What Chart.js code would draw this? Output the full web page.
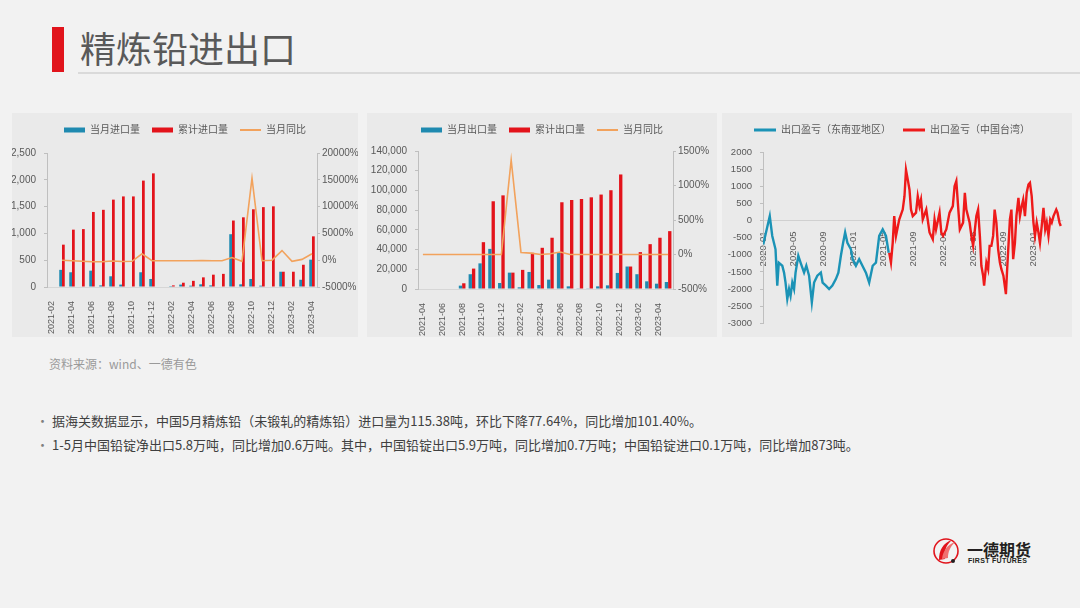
<!DOCTYPE html>
<html>
<head>
<meta charset="utf-8">
<script src="https://cdn.jsdelivr.net/npm/chart.js@4.4.0/dist/chart.umd.min.js"></script>
<style>
  html, body { margin:0; padding:0; }
  body { width:1080px; height:608px; background:#f2f2f2; position:relative; overflow:hidden;
         font-family:'Liberation Sans','Noto Sans CJK SC',sans-serif; }
  .bar { position:absolute; left:52px; top:27px; width:12px; height:45px; background:#e1141c; }
  .title { position:absolute; left:80px; top:29px; font-family:'Noto Sans CJK SC',sans-serif; font-size:36px; line-height:36px; color:#595959; }
  .rule { position:absolute; left:78px; top:72px; width:1002px; height:2px; background:#dadada; }
  .panel { position:absolute; top:113px; height:224px; background:#eaeaea; }
  .panel canvas { position:absolute; left:0; top:0; }
  .src { position:absolute; left:49px; top:355px; font-family:'Noto Sans CJK SC',sans-serif; font-size:12px; color:#9a9a9a; }
  .bl { position:absolute; left:36px; font-family:'Noto Sans CJK SC',sans-serif; font-size:13px; color:#404040; white-space:nowrap; }
  .bl span.dot { display:inline-block; width:16px; color:#7f7f7f; }
  .logo { position:absolute; left:933px; top:536px; }
  .lt1 { position:absolute; left:967px; top:540px; font-family:'Noto Sans CJK SC',sans-serif; font-weight:bold; font-size:16px; line-height:18px; color:#231f20; letter-spacing:0px; }
  .lt2 { position:absolute; left:968px; top:557px; font-family:'Liberation Sans',sans-serif; font-weight:bold; font-size:7px; line-height:8px; color:#231f20; letter-spacing:0.3px; }
</style>
</head>
<body>
<div class="bar"></div>
<div class="title">精炼铅进出口</div>
<div class="rule"></div>

<div class="panel" style="left:12px;width:346px;"><canvas id="c1" width="346" height="224"></canvas></div>
<div class="panel" style="left:367px;width:350px;"><canvas id="c2" width="350" height="224"></canvas></div>
<div class="panel" style="left:722px;width:350px;"><canvas id="c3" width="350" height="224"></canvas></div>

<div class="src">资料来源：wind、一德有色</div>
<div class="bl" style="top:411px;"><span class="dot">•</span>据海关数据显示，中国5月精炼铅（未锻轧的精炼铅）进口量为115.38吨，环比下降77.64%，同比增加101.40%。</div>
<div class="bl" style="top:435px;"><span class="dot">•</span>1-5月中国铅锭净出口5.8万吨，同比增加0.6万吨。其中，中国铅锭出口5.9万吨，同比增加0.7万吨；中国铅锭进口0.1万吨，同比增加873吨。</div>

<svg class="logo" width="30" height="30" viewBox="0 0 30 30">
  <circle cx="13" cy="15" r="12" fill="none" stroke="#e1141c" stroke-width="1.6"/>
  <path d="M6 24 C 6 14, 10 7, 19 4 C 13 9, 11 15, 12 23 Z" fill="#e1141c"/>
  <path d="M9 23 C 10 15, 14 9, 22 6 C 17 11, 15 16, 15 22 Z" fill="#f07070"/>
  <circle cx="20" cy="25" r="2" fill="#231f20"/>
</svg>
<div class="lt1">一德期货</div>
<div class="lt2">FIRST FUTURES</div>

<script>
// ---------------- data ----------------
const importMonths = ['2021-02','2021-03','2021-04','2021-05','2021-06','2021-07','2021-08','2021-09','2021-10','2021-11','2021-12','2022-01','2022-02','2022-03','2022-04','2022-05','2022-06','2022-07','2022-08','2022-09','2022-10','2022-11','2022-12','2023-01','2023-02','2023-03','2023-04'];
const importMonthly    = [0, 320, 275, 10, 305, 30, 200, 45, 10, 275, 150, 0, 2, 45, 25, 50, 30, 10, 985, 50, 150, 25, 10, 285, 0, 135, 510];
const importCumulative = [0, 790, 1070, 1080, 1400, 1440, 1630, 1690, 1690, 1985, 2120, 0, 30, 80, 115, 180, 230, 245, 1240, 1300, 1450, 1490, 1505, 285, 285, 415, 945];
const importYoY        = [null, 0, -100, -200, -300, -300, -150, -250, -200, 1200, -100, -100, -100, -100, -100, -50, -100, -100, 500, -200, 15300, -100, 0, 1800, -200, 150, 1200];

const exportMonths = ['2021-04','2021-05','2021-06','2021-07','2021-08','2021-09','2021-10','2021-11','2021-12','2022-01','2022-02','2022-03','2022-04','2022-05','2022-06','2022-07','2022-08','2022-09','2022-10','2022-11','2022-12','2023-01','2023-02','2023-03','2023-04','2023-05'];
const exportMonthly    = [0, 0, 0, 500, 3400, 15000, 26000, 40700, 6100, 16600, 1700, 17300, 4000, 9500, 37000, 2700, 300, 700, 2700, 3700, 16300, 22800, 15000, 7800, 5400, 7100];
const exportCumulative = [0, 0, 0, 500, 5800, 20700, 47500, 89000, 95000, 16600, 19400, 36700, 41800, 52000, 88000, 90300, 91300, 93000, 95800, 100200, 116200, 22800, 37400, 45500, 52000, 58700];
const exportYoY        = [0, 0, 0, 0, 0, 0, 0, 0, 0, 1370, 30, 20, 0, 10, 35, 0, 0, 0, 0, 0, 0, 0, 0, 0, 0, 0];

const seaDates = ['2020-01-02','2020-01-28','2020-02-08','2020-02-21','2020-02-28','2020-03-04','2020-03-18','2020-03-25','2020-04-01','2020-04-08','2020-04-15','2020-04-21','2020-04-28','2020-05-05','2020-05-11','2020-05-22','2020-06-01','2020-06-15','2020-06-24','2020-07-05','2020-07-16','2020-07-25','2020-08-08','2020-08-22','2020-08-29','2020-09-12','2020-09-25','2020-10-08','2020-10-22','2020-11-02','2020-11-12','2020-11-21','2020-11-29','2020-12-08','2020-12-22','2020-12-29','2021-01-12','2021-01-25','2021-02-08','2021-02-22','2021-03-05','2021-03-19','2021-04-02','2021-04-15','2021-04-29','2021-05-12','2021-05-23'];
const seaProfit = [-700, 130, -450, -840, -1900, -1230, -1320, -1520, -1810, -2290, -2000, -2200, -1810, -2000, -1520, -1030, -1230, -1520, -1320, -1610, -2390, -1810, -1610, -1520, -1810, -1900, -2000, -1900, -1710, -1520, -1030, -650, -350, -650, -840, -1130, -1320, -1130, -1320, -1520, -1810, -1320, -1230, -450, -260, -450, -940];

const twDates = ['2021-05-25','2021-06-02','2021-06-09','2021-06-15','2021-06-22','2021-07-05','2021-07-19','2021-07-26','2021-08-02','2021-08-09','2021-08-16','2021-08-22','2021-08-29','2021-09-12','2021-09-19','2021-09-26','2021-10-02','2021-10-09','2021-10-23','2021-11-06','2021-11-19','2021-11-26','2021-12-02','2021-12-16','2021-12-23','2021-12-30','2022-01-13','2022-01-26','2022-02-09','2022-02-16','2022-02-23','2022-03-01','2022-03-07','2022-03-20','2022-03-27','2022-04-03','2022-04-16','2022-04-23','2022-04-30','2022-05-13','2022-05-20','2022-05-27','2022-06-03','2022-06-10','2022-06-14','2022-06-23','2022-06-30','2022-07-06','2022-07-13','2022-07-20','2022-07-26','2022-08-03','2022-08-10','2022-08-17','2022-08-23','2022-09-01','2022-09-11','2022-09-16','2022-09-27','2022-10-03','2022-10-10','2022-10-17','2022-10-23','2022-11-01','2022-11-07','2022-11-14','2022-11-20','2022-11-27','2022-12-04','2022-12-11','2022-12-17','2022-12-24','2023-01-01','2023-01-07','2023-01-14','2023-01-21','2023-01-27','2023-02-04','2023-02-11','2023-02-18','2023-02-24','2023-03-01','2023-03-08','2023-03-14','2023-03-21','2023-04-02','2023-04-07','2023-04-15','2023-04-20'];
const twProfit = [-940, -1230, -650, 130, -450, 30, 320, 710, 1480, 1200, 900, 320, 130, 230, 710, 420, 610, 30, 320, -350, -550, 30, -260, 230, -350, -450, -260, 230, 420, 1000, 1150, 320, -260, -60, 810, 320, -60, -450, -740, 130, 320, -450, -1320, -1610, -1900, -1230, -1420, -740, -740, -450, 320, -60, -840, -1230, -1420, -1610, -2150, -1420, 30, 320, -1130, -650, 130, 660, 130, 420, 610, 130, 810, 1050, 1100, 710, -60, -450, -60, -350, -650, -160, 370, -260, -60, -450, 30, -60, 130, 320, 230, -60, -160];

// axis ranges
const importAxis = { min: 0, max: 2500, step: 500 };
const importPctAxis = { min: -5000, max: 20000, step: 5000 };
const exportAxis = { min: 0, max: 140000, step: 20000 };
const exportPctAxis = { min: -500, max: 1500, step: 500 };
const profitAxis = { min: -3000, max: 2000, step: 500 };

// ---------------- styling ----------------
const TEAL = '#1f8ab0';
const RED = '#e3131b';
const ORANGE = '#f2a25c';
const LINE_BLUE = '#1b93b6';
const LINE_RED = '#ee1a1a';
const TXT = '#595959';
const AXIS = '#bfbfbf';

Chart.defaults.font.family = "'Liberation Sans','Noto Sans CJK SC',sans-serif";
Chart.defaults.color = TXT;

const legendGap = {
  id: 'legendGap',
  beforeLayout(chart, args, opts) {
    const lg = chart.legend;
    if (lg && !lg._gapWrapped) {
      const f = lg.fit;
      lg.fit = function () { f.call(this); this.height += (opts.extra || 0); };
      lg._gapWrapped = true;
    }
  }
};

function legendLabels(chart) {
  const items = Chart.defaults.plugins.legend.labels.generateLabels(chart);
  items.forEach(it => {
    const ds = chart.data.datasets[it.datasetIndex];
    if (ds.type === 'line' || chart.config.type === 'line') {
      it.pointStyle = 'line';
      it.strokeStyle = ds.borderColor;
      it.lineWidth = ds.legendLineWidth || 2;
    } else {
      it.pointStyle = 'rect';
      it.lineWidth = 0;
    }
  });
  return items;
}

function legendOpts() {
  return {
    display: true,
    position: 'top',
    labels: {
      usePointStyle: true, pointStyleWidth: 21, boxHeight: 5, padding: 12,
      font: { size: 10 }, color: TXT,
      sort: (a, b) => a.datasetIndex - b.datasetIndex,
      generateLabels: legendLabels
    }
  };
}

function comboChart(id, labels, monthly, cumulative, yoy, names, axisL, axisR, geo) {
  return new Chart(document.getElementById(id), {
    type: 'bar',
    data: {
      labels: labels,
      datasets: [
        { type: 'bar', label: names[0], data: monthly, backgroundColor: TEAL, yAxisID: 'y', order: 1,
          categoryPercentage: geo.cat, barPercentage: 1 },
        { type: 'bar', label: names[1], data: cumulative, backgroundColor: RED, yAxisID: 'y', order: 1,
          categoryPercentage: geo.cat, barPercentage: 1 },
        { type: 'line', label: names[2], data: yoy, borderColor: ORANGE, backgroundColor: ORANGE, borderWidth: 1.6,
          pointRadius: 0, tension: 0, yAxisID: 'y1', order: 0, legendLineWidth: 2 }
      ]
    },
    options: {
      responsive: false, animation: false,
      layout: { padding: { top: 0, left: 0, right: 0, bottom: 0 } },
      plugins: { legend: legendOpts(), tooltip: { enabled: false }, legendGap: { extra: geo.gap } },
      scales: {
        x: {
          grid: { display: false },
          border: { display: true, color: '#d6d6d6' },
          ticks: {
            autoSkip: false, minRotation: 90, maxRotation: 90, padding: 6,
            font: { size: 9 }, color: TXT,
            callback: function (v, i) { return i % 2 === 0 ? this.getLabelForValue(v) : ''; }
          },
          afterFit(s) { s.height = geo.bottom; }
        },
        y: {
          position: 'left', min: axisL.min, max: axisL.max,
          ticks: { stepSize: axisL.step, padding: 8, font: { size: 10 }, color: TXT,
                   callback: v => v.toLocaleString('en-US') },
          grid: { drawOnChartArea: false, drawTicks: true, tickLength: 3, color: AXIS },
          border: { display: true, color: AXIS },
          afterFit(s) { s.width = geo.left; }
        },
        y1: {
          position: 'right', min: axisR.min, max: axisR.max,
          ticks: { stepSize: axisR.step, padding: 2, font: { size: 10 }, color: TXT,
                   callback: v => v + '%' },
          grid: { drawOnChartArea: false, drawTicks: true, tickLength: 3, color: AXIS },
          border: { display: true, color: AXIS },
          afterFit(s) { s.width = geo.right; }
        }
      }
    },
    plugins: [legendGap]
  });
}

comboChart('c1', importMonths, importMonthly, importCumulative, importYoY,
  ['当月进口量', '累计进口量', '当月同比'], importAxis, importPctAxis,
  { cat: 0.55, gap: 8, bottom: 50, left: 35, right: 41 });

comboChart('c2', exportMonths, exportMonthly, exportCumulative, exportYoY,
  ['当月出口量', '累计出口量', '当月同比'], exportAxis, exportPctAxis,
  { cat: 0.68, gap: 6, bottom: 48, left: 51, right: 44 });

// ---------------- profit line chart ----------------
function monthNum(d) {
  const [Y, M, D] = d.split('-').map(Number);
  return (Y - 2020) * 12 + (M - 1) + (D - 1) / 30;
}
function toPoints(dates, vals) { return dates.map((d, i) => ({ x: monthNum(d), y: vals[i] })); }

new Chart(document.getElementById('c3'), {
  type: 'line',
  data: {
    datasets: [
      { label: '出口盈亏（东南亚地区）', data: toPoints(seaDates, seaProfit), borderColor: LINE_BLUE, backgroundColor: LINE_BLUE,
        borderWidth: 2.4, pointRadius: 0, tension: 0, legendLineWidth: 3 },
      { label: '出口盈亏（中国台湾）', data: toPoints(twDates, twProfit), borderColor: LINE_RED, backgroundColor: LINE_RED,
        borderWidth: 2.4, pointRadius: 0, tension: 0, legendLineWidth: 3 }
    ]
  },
  options: {
    responsive: false, animation: false,
    layout: { padding: { top: 0, left: 0, right: 10, bottom: 12 } },
    plugins: {
      legend: {
        display: true, position: 'top',
        labels: { usePointStyle: true, pointStyleWidth: 22, boxHeight: 5, padding: 12,
                  font: { size: 10 }, color: TXT,
                  generateLabels: legendLabels }
      },
      tooltip: { enabled: false },
      legendGap: { extra: 7 }
    },
    scales: {
      x: {
        type: 'linear', position: { y: 0 }, min: 0, max: 39.8,
        grid: { display: false },
        border: { display: true, color: '#d0d0d0' },
        afterBuildTicks(s) { s.ticks = s.ticks.filter(t => Math.abs(t.value % 4) < 1e-6); },
        ticks: {
          stepSize: 4, autoSkip: false, minRotation: 90, maxRotation: 90, padding: 3,
          font: { size: 9.5 }, color: TXT,
          callback: v => {
            const y = 2020 + Math.floor(v / 12), m = v % 12 + 1;
            return y + '-' + String(m).padStart(2, '0');
          }
        }
      },
      y: {
        position: 'left', min: profitAxis.min, max: profitAxis.max,
        ticks: { stepSize: profitAxis.step, padding: 8, font: { size: 9.5 }, color: TXT,
                 callback: v => String(v) },
        grid: { drawOnChartArea: false, drawTicks: true, tickLength: 3, color: AXIS },
        border: { display: true, color: AXIS },
        afterFit(s) { s.width = 41; }
      }
    }
  },
  plugins: [legendGap]
});
</script>
</body>
</html>
